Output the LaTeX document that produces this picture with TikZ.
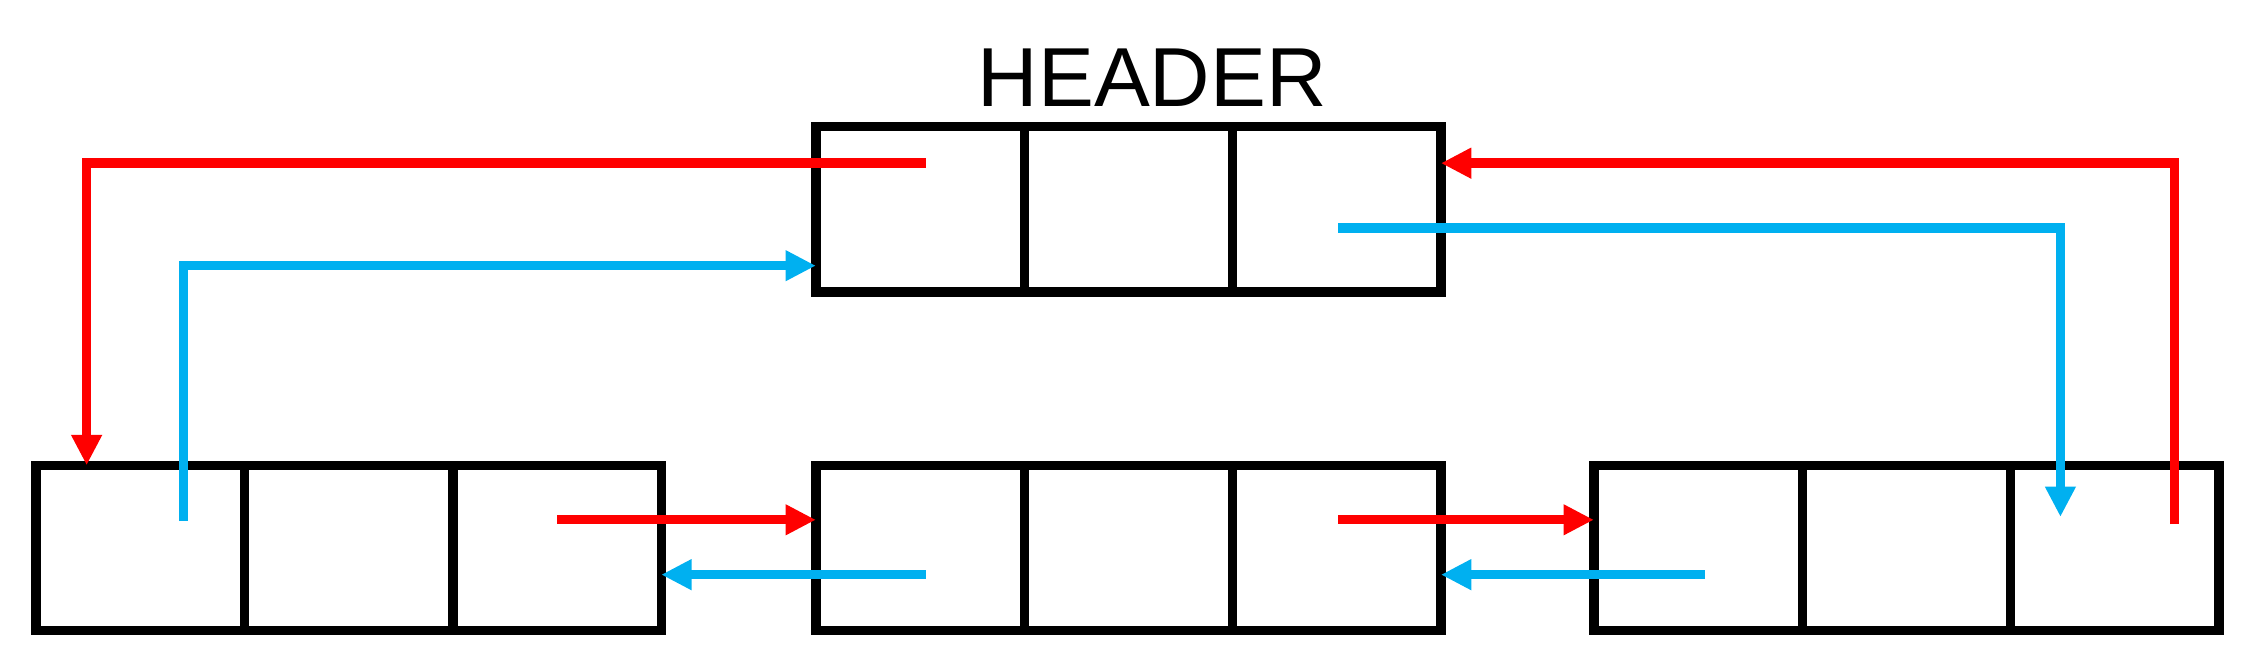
\documentclass[tikz,border=0pt]{standalone}
\usepackage{fontspec}
\setmainfont{Liberation Sans}
\usetikzlibrary{arrows.meta,calc}
\definecolor{myred}{RGB}{255,0,0}
\definecolor{myblue}{RGB}{0,176,240}
\begin{document}
\begin{tikzpicture}[x=1pt,y=-1pt,
  cell/.style={draw=black,line width=6.5pt,rectangle,minimum width=144.3pt,minimum height=114.5pt,inner sep=0pt,outer sep=0pt},
  redarrow/.style={draw=myred,line width=6.5pt,line join=miter,-{Triangle[length=21pt,width=20pt]}},
  bluearrow/.style={draw=myblue,line width=6.5pt,line join=miter,-{Triangle[length=21pt,width=20pt]}},
  redline/.style={draw=myred,line width=6.5pt,line join=miter},
  blueline/.style={draw=myblue,line width=6.5pt,line join=miter}]
\useasboundingbox (0,0) rectangle (1568,463);
% header
\node[cell] (h1) at (637.2,145) {};
\node[cell] (h2) at (781.5,145) {};
\node[cell] (h3) at (925.8,145) {};
\node[anchor=base,font=\fontsize{58pt}{60pt}\selectfont] (title) at (798,74) {HEADER};
% bottom left
\node[cell] (l1) at (97.2,379.5) {};
\node[cell] (l2) at (241.5,379.5) {};
\node[cell] (l3) at (385.8,379.5) {};
% bottom middle
\node[cell] (m1) at (637.2,379.5) {};
\node[cell] (m2) at (781.5,379.5) {};
\node[cell] (m3) at (925.8,379.5) {};
% bottom right
\node[cell] (r1) at (1176,379.5) {};
\node[cell] (r2) at (1320.3,379.5) {};
\node[cell] (r3) at (1464.6,379.5) {};
% coordinates
\coordinate (r1s) at (641,113);
\coordinate (r1c) at (60,113);
\coordinate (b2s) at (127,361);
\coordinate (b2c) at (127,184);
\coordinate (b3s) at (927,158);
\coordinate (b3c) at (1427,158);
\coordinate (b3e) at (1427,358);
\coordinate (r4s) at (1506,363);
\coordinate (r4c) at (1506,113);
\coordinate (r5s) at (386,360);
\coordinate (b6s) at (641,398);
\coordinate (r7s) at (927,360);
\coordinate (b8s) at (1181,398);
% long connectors
\draw[redarrow] (r1s) -- (r1c) -- (r1c |- l1.north);
\draw[bluearrow] (b2s) -- (b2c) -- (b2c -| h1.west);
\draw[bluearrow] (b3s) -- (b3c) -- (b3e);
\draw[redarrow] (r4s) -- (r4c) -- (r4c -| h3.east);
% short connectors
\draw[redarrow] (r5s) -- (r5s -| m1.west);
\draw[bluearrow] (b6s) -- (b6s -| l3.east);
\draw[redarrow] (r7s) -- (r7s -| r1.west);
\draw[bluearrow] (b8s) -- (b8s -| m3.east);
\end{tikzpicture}
\end{document}
